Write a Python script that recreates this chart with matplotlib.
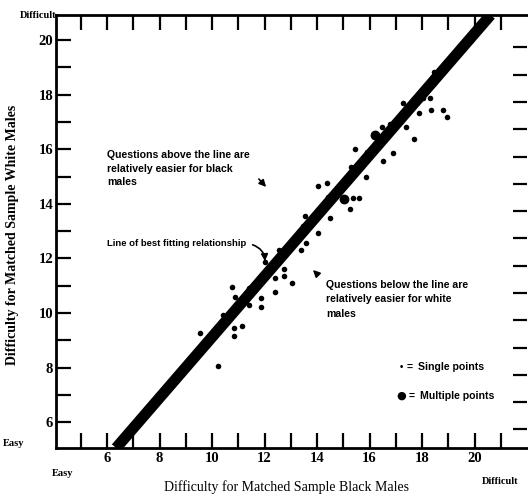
import matplotlib
matplotlib.use("Agg")
import matplotlib.pyplot as plt
import numpy as np

# ---- data ----
x_black = [9.55, 10.24, 10.43, 10.77, 10.88, 10.85, 10.85, 11.15, 11.42, 11.42,
           11.88, 11.88, 12.03, 12.41, 12.41, 12.75, 12.75, 13.06, 12.56, 13.40,
           13.59, 14.05, 13.48, 13.55, 14.51, 14.05, 14.39, 14.43, 15.35, 15.58,
           15.27, 15.88, 15.31, 15.46, 15.92, 16.53, 16.91, 16.49, 16.76, 17.26,
           17.45, 17.37, 17.68, 18.02, 18.32, 17.87, 18.36, 18.78, 18.97, 18.44,
           18.44]
y_white = [9.26, 8.05, 9.92, 10.95, 10.58, 9.44, 9.15, 9.52, 10.91, 10.29,
           10.54, 10.21, 11.86, 11.28, 10.76, 11.61, 11.35, 11.09, 12.30, 12.30,
           12.56, 12.93, 13.18, 13.55, 13.48, 14.65, 14.76, 14.25, 14.21, 14.21,
           13.81, 14.98, 15.34, 16.00, 15.89, 15.56, 15.86, 16.81, 16.92, 17.69,
           17.43, 16.81, 16.37, 17.87, 17.87, 17.32, 17.43, 17.43, 17.18, 18.83,
           18.42]
multi_x = [15.04, 16.19]
multi_y = [14.17, 16.52]
fit_slope = 1.112
fit_intercept = -2.0

x_ticks = list(range(5, 22))
x_tick_labels = [str(v) if v % 2 == 0 and 6 <= v <= 20 else "" for v in x_ticks]
y_ticks = list(range(6, 21))
y_tick_labels = [str(v) if v % 2 == 0 else "" for v in y_ticks]
right_ticks = [v - 0.27 for v in range(6, 21)]

W, H = 528, 496
def fx(px):
    return px / W
def fy(py):
    return 1 - py / H

SERIF = ["Liberation Serif", "DejaVu Serif"]
SANS = ["Liberation Sans", "DejaVu Sans"]

fig = plt.figure(figsize=(W / 100, H / 100), dpi=100)
fig.patch.set_facecolor("white")
left, right, top, bottom = 56, 527, 15, 448
ax = fig.add_axes([fx(left), fy(bottom), (right - left) / W, (bottom - top) / H])
ax.set_xlim(4.05, 22.0)
ax.set_ylim(5.05, 20.92)

for s in ["left", "bottom", "top"]:
    ax.spines[s].set_linewidth(2.0)
ax.spines["right"].set_visible(False)

ax.set_xticks(x_ticks)
ax.set_xticklabels(x_tick_labels, fontfamily=SERIF, fontweight="bold", fontsize=10.5)
ax.set_yticks(y_ticks)
ax.set_yticklabels(y_tick_labels, fontfamily=SERIF, fontweight="bold", fontsize=10.5)
ax.tick_params(axis="x", direction="in", length=11, width=1.6, top=True, pad=3)
ax.tick_params(axis="y", direction="in", length=11, width=1.6, pad=2)

ax2 = ax.twinx()
ax2.set_ylim(ax.get_ylim())
ax2.set_yticks(right_ticks)
ax2.tick_params(axis="y", direction="in", length=10, width=1.6, labelright=False)
for s in ax2.spines.values():
    s.set_visible(False)

# fitted line
ax.axline((0, fit_intercept), slope=fit_slope, color="black", linewidth=8,
          solid_capstyle="butt", zorder=2)
# points
ax.scatter(x_black, y_white, s=16, color="black", zorder=3, linewidths=0)
ax.scatter(multi_x, multi_y, s=50, color="black", zorder=3, linewidths=0)

# axis labels
fig.text(fx(287), fy(487), "Difficulty for Matched Sample Black Males",
         family=SERIF, fontsize=10, ha="center", va="center")
fig.text(fx(13), fy(235), "Difficulty for Matched Sample White Males",
         family=SERIF, fontsize=10, fontweight="bold", rotation=90,
         ha="center", va="center")

# corner labels
fig.text(fx(56), fy(16), "Difficult", family=SERIF, fontsize=7.5,
         fontweight="bold", ha="right", va="center")
fig.text(fx(3), fy(443), "Easy", family=SERIF, fontsize=7.5,
         fontweight="bold", ha="left", va="center")
fig.text(fx(52), fy(473), "Easy", family=SERIF, fontsize=7.5,
         fontweight="bold", ha="left", va="center")
fig.text(fx(482), fy(481), "Difficult", family=SERIF, fontsize=7.5,
         fontweight="bold", ha="left", va="center")

# annotations
ann_kw = dict(family=SANS, fontsize=7.6, fontweight="bold", ha="left", va="center")
for i, line in enumerate(["Questions above the line are",
                          "relatively easier for black",
                          "males"]):
    fig.text(fx(107), fy(155 + i * 13.5), line, **ann_kw)
fig.text(fx(107), fy(243), "Line of best fitting relationship",
         **dict(ann_kw, fontsize=6.8))
for i, line in enumerate(["Questions below the line are",
                          "relatively easier for white",
                          "males"]):
    fig.text(fx(326), fy(285 + i * 14.5), line, **ann_kw)

arrow_kw = dict(arrowstyle="-|>,head_length=0.4,head_width=0.2", color="black", lw=1.2)
ax.annotate("", xy=(fx(268), fy(189)), xytext=(fx(257), fy(177)),
            xycoords="figure fraction", textcoords="figure fraction",
            arrowprops=arrow_kw)
ax.annotate("", xy=(fx(265), fy(264)), xytext=(fx(250), fy(244)),
            xycoords="figure fraction", textcoords="figure fraction",
            arrowprops=dict(arrow_kw, connectionstyle="arc3,rad=-0.4"))
ax.annotate("", xy=(fx(311), fy(268)), xytext=(fx(320), fy(277)),
            xycoords="figure fraction", textcoords="figure fraction",
            arrowprops=arrow_kw)

# legend (drawn as in the original)
fig.text(fx(400), fy(367), "\u2022", family=SANS, fontsize=7, fontweight="bold",
         ha="left", va="center")
fig.text(fx(407), fy(367), "=", **ann_kw)
fig.text(fx(418), fy(367), "Single points", **ann_kw)
fig.text(fx(396), fy(396), "\u25CF", family=["DejaVu Sans"], fontsize=8,
         ha="left", va="center")
fig.text(fx(409), fy(396), "=", **ann_kw)
fig.text(fx(420), fy(396), "Multiple points", **ann_kw)

fig.savefig("out.png", dpi=100, facecolor="white")
